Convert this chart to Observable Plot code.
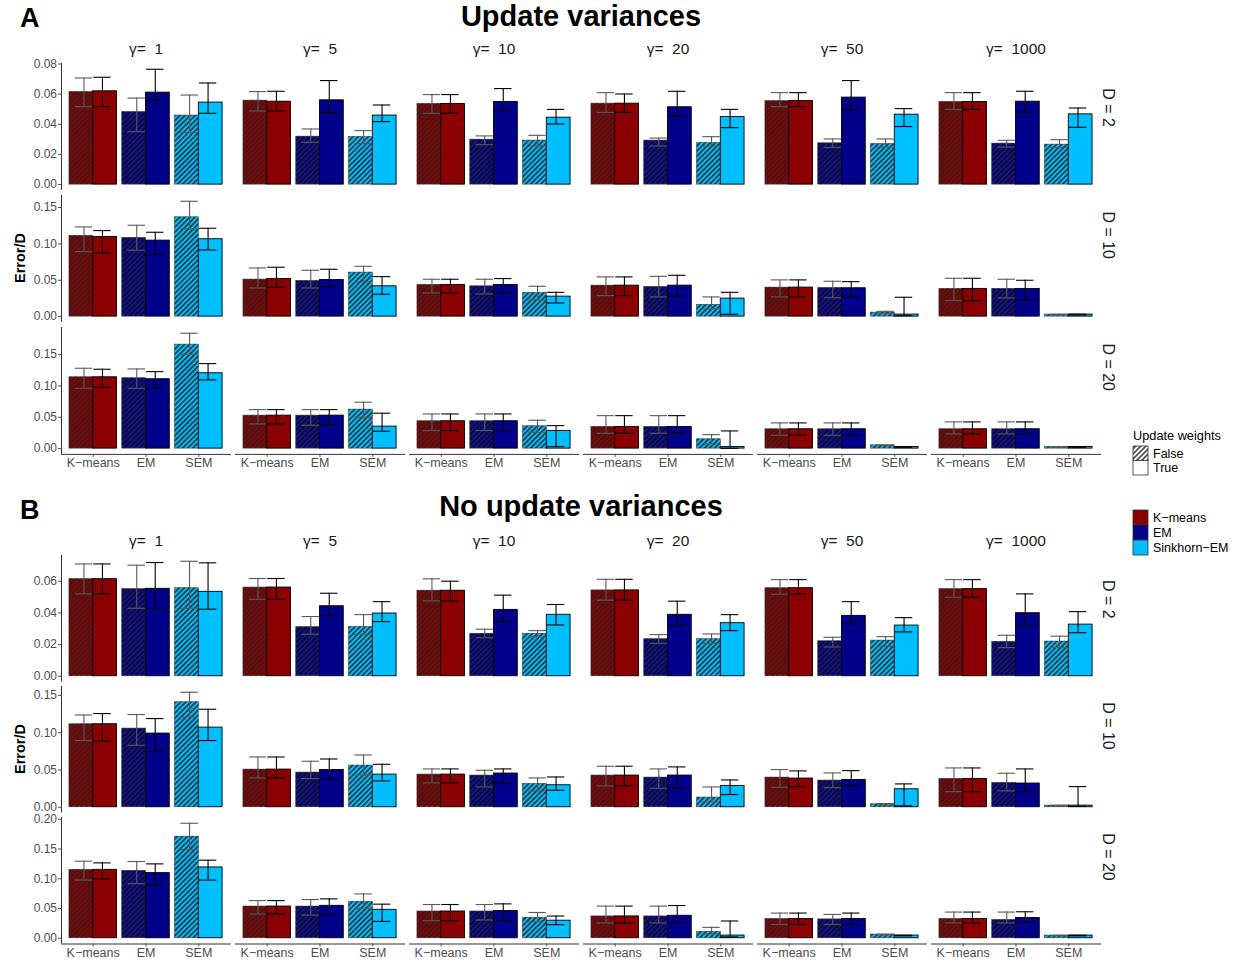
<!DOCTYPE html>
<html>
<head>
<meta charset="utf-8">
<script src="https://cdn.jsdelivr.net/npm/d3@7"></script>
<script src="https://cdn.jsdelivr.net/npm/@observablehq/plot@0.6"></script>
<style>
  body { margin: 0; background: #fff; font-family: "Liberation Sans", Arial, Helvetica, sans-serif; }
  #chart { position: relative; width: 1239px; height: 964px; overflow: hidden; background: #fff; }
  .abs { position: absolute; line-height: 1.15; white-space: nowrap; }
  .tag { font-weight: bold; font-size: 27px; color: #000; }
  .title { font-weight: bold; font-size: 29px; color: #000; transform: translateX(-50%); }
  .ylab { font-weight: bold; font-size: 14.5px; color: #000; transform: translate(-50%, -50%) rotate(-90deg); }
  .row { position: absolute; left: 0; }
</style>
</head>
<body>
<!-- shared fill pattern for the "weights not updated" bars -->
<svg width="0" height="0" style="position:absolute">
  <defs>
    <pattern id="hatch" patternUnits="userSpaceOnUse" width="3.6" height="3.6" patternTransform="rotate(45)">
      <rect width="1.6" height="3.6" fill="#222" fill-opacity="0.9"></rect>
    </pattern>
  </defs>
</svg>
<div id="chart"></div>
<script>
// ---- categories ----
const gammas = [1, 5, 10, 20, 50, 1000];
const methods = ["K-means", "EM", "SEM"];
const methodTicks = ["K\u2212means", "EM", "SEM"];
const methodLegend = ["K\u2212means", "EM", "Sinkhorn\u2212EM"];
const weights = ["False", "True"];
const methodColors = ["#8B0000", "#00008B", "#00BFFF"];

// Each row below is one gamma; columns are
// K-means False, K-means True, EM False, EM True, SEM False, SEM True.

// ---- A: variances updated ----
const varMeanD2 = [
  [0.0614, 0.0619, 0.0481, 0.0610, 0.0458, 0.0544],
  [0.0557, 0.0550, 0.0318, 0.0559, 0.0316, 0.0458],
  [0.0535, 0.0535, 0.0298, 0.0548, 0.0292, 0.0444],
  [0.0537, 0.0537, 0.0292, 0.0513, 0.0276, 0.0448],
  [0.0554, 0.0554, 0.0274, 0.0577, 0.0269, 0.0464],
  [0.0548, 0.0548, 0.0272, 0.0550, 0.0265, 0.0466]];
const varLowD2 = [
  [0.0517, 0.0517, 0.0351, 0.0561, 0.0345, 0.0473],
  [0.0488, 0.0488, 0.0281, 0.0477, 0.0272, 0.0418],
  [0.0473, 0.0473, 0.0265, 0.0491, 0.0256, 0.0402],
  [0.0479, 0.0479, 0.0256, 0.0455, 0.0256, 0.0378],
  [0.0517, 0.0517, 0.0247, 0.0495, 0.0249, 0.0385],
  [0.0499, 0.0499, 0.0249, 0.0481, 0.0247, 0.0380]];
const varHighD2 = [
  [0.0707, 0.0712, 0.0574, 0.0765, 0.0594, 0.0674],
  [0.0617, 0.0619, 0.0369, 0.0690, 0.0358, 0.0528],
  [0.0597, 0.0597, 0.0323, 0.0637, 0.0327, 0.0499],
  [0.0610, 0.0601, 0.0309, 0.0619, 0.0318, 0.0499],
  [0.0610, 0.0610, 0.0303, 0.0690, 0.0303, 0.0504],
  [0.0610, 0.0610, 0.0294, 0.0619, 0.0298, 0.0508]];

const varMeanD10 = [
  [0.1110, 0.1096, 0.1082, 0.1045, 0.1366, 0.1064],
  [0.0509, 0.0518, 0.0491, 0.0504, 0.0605, 0.0417],
  [0.0436, 0.0436, 0.0417, 0.0436, 0.0326, 0.0275],
  [0.0426, 0.0426, 0.0408, 0.0426, 0.0161, 0.0248],
  [0.0399, 0.0399, 0.0394, 0.0390, 0.0055, 0.0028],
  [0.0381, 0.0381, 0.0381, 0.0381, 0.0028, 0.0028]];
const varLowD10 = [
  [0.0894, 0.0876, 0.0912, 0.0853, 0.1206, 0.0917],
  [0.0394, 0.0404, 0.0394, 0.0413, 0.0477, 0.0307],
  [0.0326, 0.0326, 0.0312, 0.0326, 0.0230, 0.0188],
  [0.0289, 0.0289, 0.0271, 0.0280, 0.0106, 0.0032],
  [0.0271, 0.0271, 0.0261, 0.0271, 0.0040, 0.0014],
  [0.0220, 0.0220, 0.0257, 0.0229, 0.0023, 0.0023]];
const varHighD10 = [
  [0.1233, 0.1183, 0.1256, 0.1160, 0.1586, 0.1215],
  [0.0669, 0.0679, 0.0637, 0.0651, 0.0692, 0.0550],
  [0.0514, 0.0514, 0.0514, 0.0523, 0.0417, 0.0334],
  [0.0546, 0.0546, 0.0554, 0.0568, 0.0271, 0.0334],
  [0.0505, 0.0505, 0.0486, 0.0481, 0.0073, 0.0266],
  [0.0527, 0.0527, 0.0514, 0.0500, 0.0033, 0.0033]];

const varMeanD20 = [
  [0.1138, 0.1138, 0.1123, 0.1107, 0.1659, 0.1202],
  [0.0526, 0.0526, 0.0526, 0.0526, 0.0622, 0.0351],
  [0.0437, 0.0437, 0.0437, 0.0437, 0.0357, 0.0282],
  [0.0346, 0.0346, 0.0346, 0.0346, 0.0149, 0.0027],
  [0.0309, 0.0309, 0.0309, 0.0309, 0.0053, 0.0027],
  [0.0309, 0.0309, 0.0309, 0.0309, 0.0027, 0.0027]];
const varLowD20 = [
  [0.0963, 0.0979, 0.0963, 0.0963, 0.1505, 0.1096],
  [0.0394, 0.0394, 0.0373, 0.0383, 0.0501, 0.0277],
  [0.0287, 0.0287, 0.0287, 0.0287, 0.0261, 0.0032],
  [0.0245, 0.0245, 0.0245, 0.0245, 0.0075, 0.0005],
  [0.0213, 0.0213, 0.0213, 0.0213, 0.0048, 0.0022],
  [0.0234, 0.0234, 0.0234, 0.0234, 0.0022, 0.0022]];
const varHighD20 = [
  [0.1282, 0.1266, 0.1271, 0.1228, 0.1840, 0.1356],
  [0.0622, 0.0622, 0.0622, 0.0622, 0.0740, 0.0565],
  [0.0553, 0.0553, 0.0553, 0.0553, 0.0453, 0.0367],
  [0.0526, 0.0526, 0.0526, 0.0526, 0.0223, 0.0282],
  [0.0410, 0.0410, 0.0410, 0.0410, 0.0058, 0.0032],
  [0.0426, 0.0426, 0.0426, 0.0426, 0.0032, 0.0032]];

// ---- B: variances fixed ----
const fixMeanD2 = [
  [0.0613, 0.0613, 0.0550, 0.0552, 0.0556, 0.0533],
  [0.0560, 0.0560, 0.0310, 0.0442, 0.0311, 0.0396],
  [0.0540, 0.0540, 0.0268, 0.0419, 0.0268, 0.0388],
  [0.0542, 0.0542, 0.0234, 0.0388, 0.0234, 0.0335],
  [0.0556, 0.0556, 0.0221, 0.0381, 0.0225, 0.0320],
  [0.0550, 0.0550, 0.0217, 0.0398, 0.0219, 0.0326]];
const fixLowD2 = [
  [0.0520, 0.0520, 0.0429, 0.0429, 0.0429, 0.0423],
  [0.0486, 0.0486, 0.0265, 0.0385, 0.0265, 0.0345],
  [0.0476, 0.0476, 0.0243, 0.0343, 0.0249, 0.0324],
  [0.0480, 0.0480, 0.0208, 0.0320, 0.0208, 0.0288],
  [0.0518, 0.0518, 0.0185, 0.0332, 0.0189, 0.0280],
  [0.0499, 0.0499, 0.0181, 0.0328, 0.0181, 0.0275]];
const fixHighD2 = [
  [0.0709, 0.0709, 0.0701, 0.0718, 0.0726, 0.0716],
  [0.0617, 0.0617, 0.0377, 0.0524, 0.0389, 0.0471],
  [0.0615, 0.0600, 0.0297, 0.0512, 0.0288, 0.0453],
  [0.0612, 0.0612, 0.0263, 0.0474, 0.0267, 0.0389],
  [0.0610, 0.0610, 0.0246, 0.0471, 0.0250, 0.0370],
  [0.0610, 0.0610, 0.0259, 0.0520, 0.0253, 0.0408]];

const fixMeanD10 = [
  [0.1113, 0.1113, 0.1055, 0.0988, 0.1408, 0.1068],
  [0.0505, 0.0505, 0.0465, 0.0500, 0.0559, 0.0438],
  [0.0438, 0.0438, 0.0425, 0.0452, 0.0312, 0.0295],
  [0.0425, 0.0425, 0.0398, 0.0425, 0.0130, 0.0286],
  [0.0398, 0.0385, 0.0358, 0.0366, 0.0040, 0.0241],
  [0.0380, 0.0380, 0.0326, 0.0318, 0.0022, 0.0022]];
const fixLowD10 = [
  [0.0894, 0.0885, 0.0831, 0.0747, 0.1210, 0.0894],
  [0.0393, 0.0393, 0.0385, 0.0380, 0.0433, 0.0353],
  [0.0326, 0.0326, 0.0272, 0.0326, 0.0219, 0.0228],
  [0.0286, 0.0286, 0.0255, 0.0259, 0.0071, 0.0170],
  [0.0268, 0.0277, 0.0264, 0.0286, 0.0030, 0.0018],
  [0.0210, 0.0210, 0.0219, 0.0210, 0.0017, 0.0013]];
const fixHighD10 = [
  [0.1237, 0.1256, 0.1243, 0.1189, 0.1542, 0.1314],
  [0.0674, 0.0674, 0.0617, 0.0647, 0.0701, 0.0576],
  [0.0514, 0.0514, 0.0496, 0.0514, 0.0393, 0.0406],
  [0.0550, 0.0550, 0.0514, 0.0541, 0.0272, 0.0366],
  [0.0505, 0.0487, 0.0460, 0.0491, 0.0049, 0.0313],
  [0.0527, 0.0527, 0.0456, 0.0514, 0.0027, 0.0277]];

const fixMeanD20 = [
  [0.1150, 0.1150, 0.1133, 0.1095, 0.1707, 0.1190],
  [0.0533, 0.0533, 0.0533, 0.0545, 0.0612, 0.0478],
  [0.0450, 0.0450, 0.0450, 0.0457, 0.0345, 0.0295],
  [0.0367, 0.0367, 0.0367, 0.0378, 0.0107, 0.0045],
  [0.0323, 0.0323, 0.0317, 0.0323, 0.0062, 0.0045],
  [0.0323, 0.0323, 0.0307, 0.0340, 0.0045, 0.0045]];
const fixLowD20 = [
  [0.0978, 0.0995, 0.0917, 0.0895, 0.1490, 0.0978],
  [0.0407, 0.0407, 0.0390, 0.0390, 0.0500, 0.0283],
  [0.0295, 0.0295, 0.0307, 0.0295, 0.0278, 0.0228],
  [0.0257, 0.0257, 0.0257, 0.0262, 0.0073, 0.0023],
  [0.0233, 0.0233, 0.0233, 0.0233, 0.0055, 0.0040],
  [0.0257, 0.0257, 0.0257, 0.0267, 0.0040, 0.0040]];
const fixHighD20 = [
  [0.1295, 0.1267, 0.1290, 0.1250, 0.1933, 0.1312],
  [0.0633, 0.0633, 0.0650, 0.0662, 0.0745, 0.0573],
  [0.0567, 0.0567, 0.0567, 0.0578, 0.0433, 0.0373],
  [0.0540, 0.0540, 0.0540, 0.0550, 0.0183, 0.0290],
  [0.0423, 0.0423, 0.0400, 0.0423, 0.0068, 0.0050],
  [0.0440, 0.0440, 0.0440, 0.0445, 0.0050, 0.0050]];

// ---- y tick values per row ----
const ticksVarD2 = [0, 0.02, 0.04, 0.06, 0.08];
const ticksVarD10 = [0, 0.05, 0.10, 0.15];
const ticksVarD20 = [0, 0.05, 0.10, 0.15];
const ticksFixD2 = [0, 0.02, 0.04, 0.06];
const ticksFixD10 = [0, 0.05, 0.10, 0.15];
const ticksFixD20 = [0, 0.05, 0.10, 0.15, 0.20];

// ---- layout ----
const W = 1239;
const MARGIN_LEFT = 60.5, MARGIN_RIGHT = 137.5;
const MT = 34, MB = 26, GAP = 4.8;
const X_DOMAIN = [0.4, 3.6];          // discrete positions 1..3 with 0.6 expansion
const BAR_W = 0.45, ERR_OFF = 0.175, CAP = 0.165;
const FONT = '"Liberation Sans", Arial, Helvetica, sans-serif';

function rowData(mean, lo, hi) {
  const out = [];
  gammas.forEach((g, gi) => methods.forEach((m, mi) => weights.forEach((w, wi) => {
    const k = 2 * mi + wi, pos = mi + 1;
    out.push({
      gamma: g, method: m, weight: w, color: methodColors[mi],
      x1: wi ? pos : pos - BAR_W, x2: wi ? pos + BAR_W : pos,
      xe: pos + (wi ? ERR_OFF : -ERR_OFF),
      value: mean[gi][k], lo: lo[gi][k], hi: hi[gi][k]
    });
  })));
  return out;
}

function rowPlot({mean, lo, hi, ticks, dLabel, first, last, panelH}) {
  const data = rowData(mean, lo, hi);
  const yMax = d3.max(data, d => d.hi);
  const F = data.filter(d => d.weight === "False");
  const T = data.filter(d => d.weight === "True");
  const errStroke = d => d.weight === "False" ? "#595959" : "#000";
  const marks = [
    Plot.rectY(F, {fx: "gamma", x1: "x1", x2: "x2", y1: 0, y2: "value", fill: "color", stroke: "#3a3a3a", strokeWidth: 0.7, strokeOpacity: 0.8}),
    Plot.rectY(F, {fx: "gamma", x1: "x1", x2: "x2", y1: 0, y2: "value", fill: "url(#hatch)"}),
    Plot.rectY(T, {fx: "gamma", x1: "x1", x2: "x2", y1: 0, y2: "value", fill: "color", stroke: "#000", strokeWidth: 0.9}),
    Plot.ruleX(data, {fx: "gamma", x: "xe", y1: "lo", y2: "hi", stroke: errStroke, strokeWidth: 1.1}),
    Plot.ruleY(data, {fx: "gamma", y: "lo", x1: d => d.xe - CAP, x2: d => d.xe + CAP, stroke: errStroke, strokeWidth: 1.1}),
    Plot.ruleY(data, {fx: "gamma", y: "hi", x1: d => d.xe - CAP, x2: d => d.xe + CAP, stroke: errStroke, strokeWidth: 1.1}),
    // left axis line, first facet only
    Plot.ruleX([{g: gammas[0], x: X_DOMAIN[0]}], {fx: "g", x: "x", stroke: "#333", strokeWidth: 1}),
    Plot.axisY({ticks, tickFormat: d3.format(".2f"), tickSize: 3, tickPadding: 1.5, fontSize: 12, color: "#4d4d4d", label: null}),
    Plot.text([{g: gammas[gammas.length - 1], label: dLabel}], {fx: "g", text: "label", frameAnchor: "right", rotate: 90, dx: 8, fontSize: 16, fill: "#1a1a1a"})
  ];
  if (first) {
    marks.push(Plot.axisFx({anchor: "top", tickSize: 0, tickPadding: 9.5, fontSize: 15.5, color: "#1a1a1a", label: null,
      tickFormat: g => `\u03b3=\u00a0\u00a0${g}`}));
  }
  if (last) {
    marks.push(Plot.frame({anchor: "bottom", stroke: "#333", strokeWidth: 1}));
    marks.push(Plot.axisX({ticks: [1, 2, 3], tickFormat: i => methodTicks[i - 1], tickSize: 3, tickPadding: 1,
      fontSize: 12.5, color: "#4d4d4d", label: null}));
  }
  return Plot.plot({
    width: W,
    height: MT + panelH + MB,
    marginLeft: MARGIN_LEFT, marginRight: MARGIN_RIGHT, marginTop: MT, marginBottom: MB,
    style: {background: "none", fontFamily: FONT, overflow: "visible"},
    fx: {domain: gammas, paddingInner: 0.0276, paddingOuter: 0, axis: null, label: null},
    x: {domain: X_DOMAIN, axis: null},
    y: {domain: [-0.05 * yMax, 1.05 * yMax], axis: null},
    color: {type: "identity"},
    marks
  });
}

const panels = [
  {tag: "A", title: "Update variances", tagTop: 3, titleTop: 0, top: 63.2, rowH: 126.9,
   rows: [
     {mean: varMeanD2, lo: varLowD2, hi: varHighD2, ticks: ticksVarD2, dLabel: "D = 2"},
     {mean: varMeanD10, lo: varLowD10, hi: varHighD10, ticks: ticksVarD10, dLabel: "D = 10"},
     {mean: varMeanD20, lo: varLowD20, hi: varHighD20, ticks: ticksVarD20, dLabel: "D = 20"}]},
  {tag: "B", title: "No update variances", tagTop: 495, titleTop: 490, top: 554.6, rowH: 126.5,
   rows: [
     {mean: fixMeanD2, lo: fixLowD2, hi: fixHighD2, ticks: ticksFixD2, dLabel: "D = 2"},
     {mean: fixMeanD10, lo: fixLowD10, hi: fixHighD10, ticks: ticksFixD10, dLabel: "D = 10"},
     {mean: fixMeanD20, lo: fixLowD20, hi: fixHighD20, ticks: ticksFixD20, dLabel: "D = 20"}]}
];

const chart = document.getElementById("chart");
const centerX = (MARGIN_LEFT + (W - MARGIN_RIGHT)) / 2;

for (const p of panels) {
  const tag = document.createElement("div");
  tag.className = "abs tag"; tag.textContent = p.tag;
  tag.style.left = "20px"; tag.style.top = p.tagTop + "px";
  chart.appendChild(tag);

  const title = document.createElement("div");
  title.className = "abs title"; title.textContent = p.title;
  title.style.left = centerX + "px"; title.style.top = p.titleTop + "px";
  chart.appendChild(title);

  p.rows.forEach((r, i) => {
    const rowTop = p.top + i * (p.rowH + GAP);
    const svg = rowPlot({...r, first: i === 0, last: i === p.rows.length - 1, panelH: p.rowH});
    const holder = document.createElement("div");
    holder.className = "row";
    holder.style.top = (rowTop - MT) + "px";
    holder.style.width = W + "px";
    holder.appendChild(svg);
    chart.appendChild(holder);
  });

  const ylab = document.createElement("div");
  ylab.className = "abs ylab"; ylab.textContent = "Error/D";
  const bottom = p.top + 3 * p.rowH + 2 * GAP;
  ylab.style.left = "20px"; ylab.style.top = ((p.top + bottom) / 2) + "px";
  chart.appendChild(ylab);
}

// ---- legends ----
const leg = d3.create("svg")
  .attr("width", 114).attr("height", 150)
  .style("position", "absolute").style("left", "1125px").style("top", "420px")
  .style("font-family", FONT);
const lx = 8, key = 15;
leg.append("text").attr("x", lx).attr("y", 20).attr("font-size", 12.75).attr("fill", "#000").text("Update weights");
weights.forEach((w, i) => {
  const y = 26 + i * 14.5;
  leg.append("rect").attr("x", lx).attr("y", y).attr("width", key).attr("height", 14.5).attr("fill", "#fff");
  if (w === "False") leg.append("rect").attr("x", lx).attr("y", y).attr("width", key).attr("height", 14.5).attr("fill", "url(#hatch)");
  leg.append("rect").attr("x", lx).attr("y", y).attr("width", key).attr("height", 14.5)
    .attr("fill", "none").attr("stroke", "#333").attr("stroke-width", 0.8);
  leg.append("text").attr("x", lx + 20).attr("y", y + 7.25).attr("dy", "0.35em").attr("font-size", 12.5).attr("fill", "#000").text(w);
});
methodLegend.forEach((m, i) => {
  const y = 90 + i * 15;
  leg.append("rect").attr("x", lx).attr("y", y).attr("width", key).attr("height", 15)
    .attr("fill", methodColors[i]).attr("stroke", "#333").attr("stroke-width", 0.8);
  leg.append("text").attr("x", lx + 20).attr("y", y + 7.5).attr("dy", "0.35em").attr("font-size", 12.5).attr("fill", "#000").text(m);
});
chart.appendChild(leg.node());
</script>
</body>
</html>
